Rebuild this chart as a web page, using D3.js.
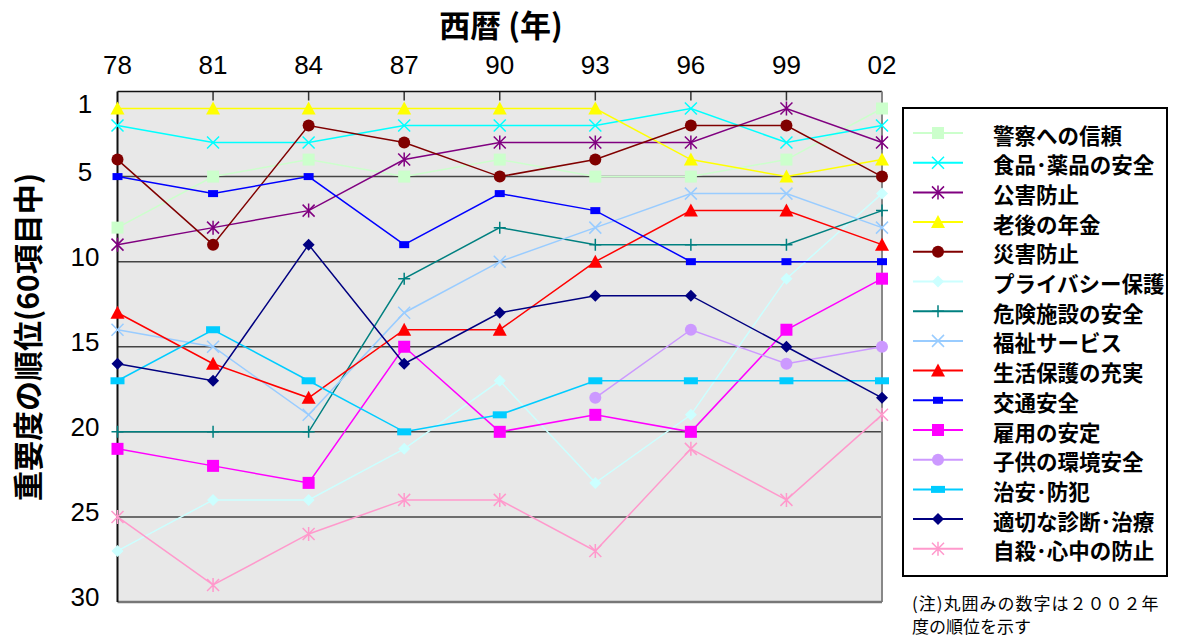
<!DOCTYPE html>
<html>
<head>
<meta charset="utf-8">
<script src="https://cdn.jsdelivr.net/npm/d3@7"></script>
<style>
  body { margin: 0; background: #fff; }
  svg text { font-family: "Liberation Sans", "Noto Sans CJK JP", sans-serif; }
  .jp { font-family: "Noto Sans CJK JP", sans-serif; }
</style>
</head>
<body>
<div id="chart"></div>
<script>
// years along the top axis
const years = ["78", "81", "84", "87", "90", "93", "96", "99", "02"];
const yTicks = [1, 5, 10, 15, 20, 25, 30];

const keisatsu = [8, 5, 4, 5, 4, 5, 5, 4, 1];
const shokuhin = [2, 3, 3, 2, 2, 2, 1, 3, 2];
const kougai = [9, 8, 7, 4, 3, 3, 3, 1, 3];
const nenkin = [1, 1, 1, 1, 1, 1, 4, 5, 4];
const saigai = [4, 9, 2, 3, 5, 4, 2, 2, 5];
const privacy = [27, 24, 24, 21, 17, 23, 19, 11, 6];
const kiken = [20, 20, 20, 11, 8, 9, 9, 9, 7];
const fukushi = [14, 15, 19, 13, 10, 8, 6, 6, 8];
const seikatsu = [13, 16, 18, 14, 14, 10, 7, 7, 9];
const koutsu = [5, 6, 5, 9, 6, 7, 10, 10, 10];
const koyou = [21, 22, 23, 15, 20, 19, 20, 14, 11];
const kodomo = [null, null, null, null, null, 18, 14, 16, 15];
const chian = [17, 14, 17, 20, 19, 17, 17, 17, 17];
const shindan = [16, 17, 9, 16, 13, 12, 12, 15, 18];
const jisatsu = [25, 29, 26, 24, 24, 27, 21, 24, 19];

const series = [
  { name: "警察への信頼", values: keisatsu, color: "#ccffcc", marker: "square" },
  { name: "食品･薬品の安全", values: shokuhin, color: "#00ffff", marker: "x" },
  { name: "公害防止", values: kougai, color: "#800080", marker: "star" },
  { name: "老後の年金", values: nenkin, color: "#ffff00", marker: "triangle" },
  { name: "災害防止", values: saigai, color: "#800000", marker: "circle" },
  { name: "プライバシー保護", values: privacy, color: "#ccffff", marker: "diamond" },
  { name: "危険施設の安全", values: kiken, color: "#008080", marker: "plus" },
  { name: "福祉サービス", values: fukushi, color: "#99ccff", marker: "x" },
  { name: "生活保護の充実", values: seikatsu, color: "#ff0000", marker: "triangle" },
  { name: "交通安全", values: koutsu, color: "#0000ff", marker: "smallrect" },
  { name: "雇用の安定", values: koyou, color: "#ff00ff", marker: "square" },
  { name: "子供の環境安全", values: kodomo, color: "#cc99ff", marker: "circle" },
  { name: "治安･防犯", values: chian, color: "#00ccff", marker: "widerect" },
  { name: "適切な診断･治療", values: shindan, color: "#000080", marker: "diamond" },
  { name: "自殺･心中の防止", values: jisatsu, color: "#ff99cc", marker: "star" }
];

const width = 1180, height = 637;
const plot = { left: 117.5, right: 882, top: 91.5, bottom: 602 };

const svg = d3.select("#chart").append("svg")
  .attr("width", width)
  .attr("height", height);

const x = d3.scalePoint().domain(years).range([plot.left, plot.right]);
const y = d3.scaleLinear().domain([0, 30]).range([plot.top, plot.bottom]);

// plot background
svg.append("rect")
  .attr("x", plot.left).attr("y", plot.top)
  .attr("width", plot.right - plot.left).attr("height", plot.bottom - plot.top)
  .attr("fill", "#e8e8e8");

// horizontal gridlines
svg.append("g").selectAll("line")
  .data([5, 10, 15, 20, 25])
  .join("line")
  .attr("x1", plot.left).attr("x2", plot.right)
  .attr("y1", d => y(d)).attr("y2", d => y(d))
  .attr("stroke", "#444").attr("stroke-width", 1.5);

// top ticks
svg.append("g").selectAll("line")
  .data(years.slice(1, -1))
  .join("line")
  .attr("x1", d => x(d)).attr("x2", d => x(d))
  .attr("y1", plot.top).attr("y2", plot.top + 9)
  .attr("stroke", "#333").attr("stroke-width", 1.5);

// frame
svg.append("line").attr("x1", plot.left).attr("x2", plot.right)
  .attr("y1", plot.top).attr("y2", plot.top).attr("stroke", "#111").attr("stroke-width", 1.5);
svg.append("line").attr("x1", plot.right).attr("x2", plot.right)
  .attr("y1", plot.top).attr("y2", plot.bottom).attr("stroke", "#888").attr("stroke-width", 2);
svg.append("line").attr("x1", plot.left).attr("x2", plot.right)
  .attr("y1", plot.bottom).attr("y2", plot.bottom).attr("stroke", "#777").attr("stroke-width", 2.5);
svg.append("line").attr("x1", plot.left).attr("x2", plot.left)
  .attr("y1", plot.top).attr("y2", plot.bottom).attr("stroke", "#111").attr("stroke-width", 2);

// marker shapes
function markerPath(type) {
  switch (type) {
    case "square": return "M-6,-6H6V6H-6Z";
    case "triangle": return "M0,-7L7,6H-7Z";
    case "circle": return "M-6,0A6,6 0 1,0 6,0A6,6 0 1,0 -6,0Z";
    case "diamond": return "M0,-6L6,0L0,6L-6,0Z";
    case "smallrect": return "M-5,-3.5H5V3.5H-5Z";
    case "widerect": return "M-7,-3.5H7V3.5H-7Z";
    case "x": return "M-6,-6L6,6M-6,6L6,-6";
    case "plus": return "M-6,0H6M0,-6V6";
    case "star": return "M-6,-6L6,6M-6,6L6,-6M0,-7V7";
  }
}
const stroked = t => t === "x" || t === "plus" || t === "star";

function drawMarker(g, type, color, cx, cy) {
  const p = g.append("path")
    .attr("d", markerPath(type))
    .attr("transform", `translate(${cx},${cy})`);
  if (stroked(type)) {
    p.attr("fill", "none").attr("stroke", color).attr("stroke-width", 1.5);
  } else {
    p.attr("fill", color);
  }
}

const line = d3.line()
  .defined(d => d != null)
  .x((d, i) => x(years[i]))
  .y(d => y(d));

series.forEach(s => {
  const g = svg.append("g");
  g.append("path")
    .datum(s.values)
    .attr("fill", "none")
    .attr("stroke", s.color)
    .attr("stroke-width", 1.5)
    .attr("d", line);
  s.values.forEach((v, i) => {
    if (v != null) drawMarker(g, s.marker, s.color, x(years[i]), y(v));
  });
});

// top axis labels
svg.append("g").selectAll("text")
  .data(years)
  .join("text")
  .attr("x", d => x(d))
  .attr("y", 74)
  .attr("text-anchor", "middle")
  .attr("font-size", 26)
  .text(d => d);

// y tick labels
svg.append("g").selectAll("text")
  .data(yTicks)
  .join("text")
  .attr("x", 85)
  .attr("y", d => y(d) + 4)
  .attr("text-anchor", "middle")
  .attr("font-size", 26)
  .text(d => d);

// axis titles
svg.append("text")
  .attr("class", "jp")
  .attr("x", 501).attr("y", 37)
  .attr("text-anchor", "middle")
  .attr("font-size", 31).attr("font-weight", "bold")
  .text("西暦 (年)");

svg.append("text")
  .attr("class", "jp")
  .attr("transform", "translate(39,337) rotate(-90)")
  .attr("text-anchor", "middle")
  .attr("font-size", 30).attr("font-weight", "bold")
  .text("重要度の順位(60項目中)");

// legend
const legend = svg.append("g");
legend.append("rect")
  .attr("x", 903).attr("y", 108)
  .attr("width", 264).attr("height", 468)
  .attr("fill", "#fff").attr("stroke", "#000").attr("stroke-width", 2);

series.forEach((s, i) => {
  const ly = 133 + i * 29.7;
  legend.append("line")
    .attr("x1", 913).attr("x2", 963)
    .attr("y1", ly).attr("y2", ly)
    .attr("stroke", s.color).attr("stroke-width", 2);
  drawMarker(legend, s.marker, s.color, 938, ly);
  legend.append("text")
    .attr("class", "jp")
    .attr("x", 993).attr("y", ly + 1)
    .attr("dominant-baseline", "central")
    .attr("font-size", 21.5).attr("font-weight", "bold")
    .text(s.name);
});

// note
svg.append("text")
  .attr("class", "jp")
  .attr("x", 912).attr("y", 610)
  .attr("font-size", 17)
  .attr("letter-spacing", 1)
  .text("(注)丸囲みの数字は２００２年");
svg.append("text")
  .attr("class", "jp")
  .attr("x", 912).attr("y", 633)
  .attr("font-size", 17)
  .text("度の順位を示す");
</script>
</body>
</html>
